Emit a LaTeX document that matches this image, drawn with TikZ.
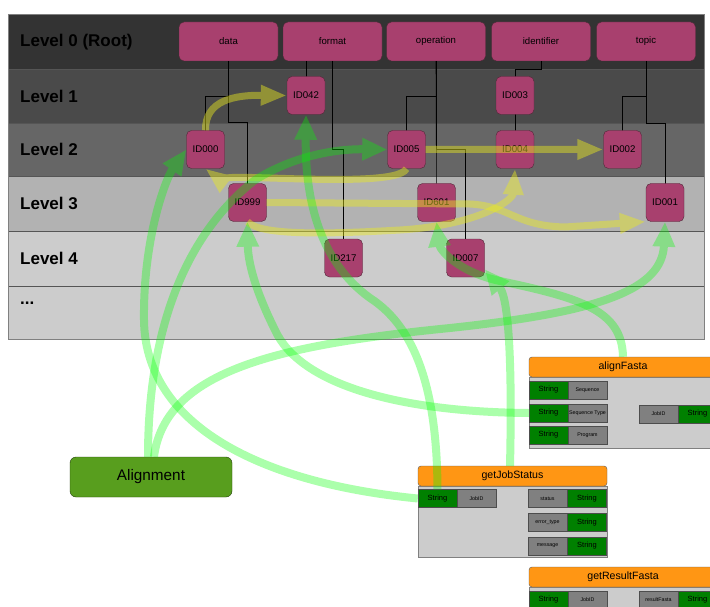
\documentclass[tikz,border=0pt]{standalone}
\usepackage{fontspec}
\setmainfont{Liberation Sans}
\usetikzlibrary{arrows.meta}
\definecolor{rootc}{RGB}{168,64,110}
\definecolor{rootb}{RGB}{80,40,55}
\definecolor{lvA}{RGB}{51,51,51}
\definecolor{lvB}{RGB}{74,74,74}
\definecolor{lvC}{RGB}{102,102,102}
\definecolor{lvD}{RGB}{178,178,178}
\definecolor{lvE}{RGB}{204,204,204}
\definecolor{sepc}{RGB}{85,85,85}
\definecolor{orangeh}{RGB}{255,150,20}
\definecolor{strg}{RGB}{0,128,0}
\definecolor{grayb}{RGB}{128,128,128}
\definecolor{panelb}{RGB}{204,204,204}
\definecolor{algreen}{RGB}{88,158,30}
\definecolor{garrow}{RGB}{0,255,0}
\definecolor{yarrow}{RGB}{235,235,30}
\tikzset{
  rootbox/.style={draw=rootb, fill=rootc, rounded corners=5pt, minimum width=99pt, minimum height=39pt, inner sep=0pt, font=\fontsize{9.6}{11}\selectfont},
  idbox/.style={draw=rootb, fill=rootc, rounded corners=5pt, minimum width=38pt, minimum height=38pt, inner sep=0pt, font=\fontsize{9.7}{11}\selectfont},
  lvlabel/.style={anchor=west, inner sep=0pt, font=\bfseries\fontsize{17}{20}\selectfont},
  tree/.style={draw=black, line width=0.6pt},
  garr/.style={draw=garrow, line width=8pt, -{Triangle[length=25pt,width=21pt]}},
  yarr/.style={draw=yarrow, line width=7pt, -{Triangle[length=26pt,width=19pt]}},
  ggroup/.style={transparency group, opacity=0.33},
  ygroup/.style={transparency group, opacity=0.45},
  phead/.style={draw=grayb!70!black, fill=orangeh, rounded corners=3pt, minimum width=188pt, minimum height=20pt, inner sep=0pt, font=\fontsize{10.6}{12}\selectfont},
  pbody/.style={draw=grayb, fill=panelb, anchor=north west, minimum width=188pt, inner sep=0pt},
  strbox/.style={draw=grayb!60!black, fill=strg, minimum width=39pt, minimum height=18pt, inner sep=0pt, font=\fontsize{7.5}{9}\selectfont},
  portbox/.style={draw=grayb!60!black, fill=grayb, minimum width=39pt, minimum height=18pt, inner sep=0pt, font=\fontsize{5.3}{6}\selectfont},
  alignbox/.style={draw=black!60!algreen, fill=algreen, rounded corners=6pt, minimum width=162pt, minimum height=40pt, inner sep=0pt, font=\fontsize{15.3}{18}\selectfont}
}
\begin{document}
\begin{tikzpicture}[x=1pt,y=-1pt]
\useasboundingbox (0,0) rectangle (710,607);
\fill[white] (0,0) rectangle (710,607);
% rows
\fill[lvA] (8,14) rectangle (704,69);
\fill[lvB] (8,69) rectangle (704,123);
\fill[lvC] (8,123) rectangle (704,176);
\fill[lvD] (8,176) rectangle (704,231);
\fill[lvE] (8,231) rectangle (704,339);
\draw[sepc, line width=0.7pt] (8,69) -- (704,69) (8,123) -- (704,123) (8,176) -- (704,176) (8,231) -- (704,231) (8,286) -- (704,286);
\draw[grayb, line width=0.8pt] (8,14) rectangle (704,339);
% level labels
\node[lvlabel] (l0) at (20,42) {Level 0 (Root)};
\node[lvlabel] (l1) at (20,96) {Level 1};
\node[lvlabel] (l2) at (20,149) {Level 2};
\node[lvlabel] (l3) at (20,203) {Level 3};
\node[lvlabel] (l4) at (20,258) {Level 4};
\node[lvlabel] (l5) at (20,303) {...};
% root boxes
\node[rootbox] (data) at (228.5,41.5) {data};
\node[rootbox] (format) at (332.5,41.5) {format};
\node[rootbox] (oper) at (436,41.5) {operation};
\node[rootbox] (ident) at (541,41.5) {identifier};
\node[rootbox] (topic) at (646,41.5) {topic};
\path (306,95.5) coordinate (c042) (515,95.5) coordinate (c003)
      (205.5,149.5) coordinate (c000) (406.5,149.5) coordinate (c005) (515,149.5) coordinate (c004) (622.5,149.5) coordinate (c002)
      (247.5,202.5) coordinate (c999) (436.5,202.5) coordinate (c601) (665,202.5) coordinate (c001)
      (343.5,258) coordinate (c217) (465.5,258) coordinate (c007);
% tree lines (under the id nodes)
\draw[tree] (data.south) -- ++(0,35) -| (c000);
\draw[tree] (data.south) -- ++(0,61) -| (c999);
\draw[tree] (format.south) -- ++(0,88) -| (c217);
\draw[tree] (c042) -- (c042 |- format.south);
\draw[tree] (oper.south) -- ++(0,35) -| (c005);
\draw[tree] (oper.south) -- (c601);
\draw[tree] (oper.south) -- ++(0,88) -| (c007);
\draw[tree] (ident.south) -- ++(0,8) -| (c003);
\draw[tree] (c003) -- (c004);
\draw[tree] (topic.south) -- ++(0,35) -| (c002);
\draw[tree] (topic.south) -- ++(0,62) -| (c001);
% id nodes
\node[idbox] (id042) at (c042) {ID042};
\node[idbox] (id003) at (c003) {ID003};
\node[idbox] (id000) at (c000) {ID000};
\node[idbox] (id005) at (c005) {ID005};
\node[idbox] (id004) at (c004) {ID004};
\node[idbox] (id002) at (c002) {ID002};
\node[idbox] (id999) at (c999) {ID999};
\node[idbox] (id601) at (c601) {ID601};
\node[idbox] (id001) at (c001) {ID001};
\node[idbox] (id217) at (c217) {ID217};
\node[idbox] (id007) at (c007) {ID007};
% alignFasta panel
\node[pbody, minimum height=71pt] (afBody) at (529,377) {};
\node[phead] (afHead) at (623,367) {alignFasta};
\node[strbox] (afS1) at (548.5,390) {String};
\node[portbox] (afP1) at (587.5,390) {Sequence};
\node[strbox] (afS2) at (548.5,413) {String};
\node[portbox] (afP2) at (587.5,413) {Sequence Type};
\node[strbox] (afS3) at (548.5,435) {String};
\node[portbox] (afP3) at (587.5,435) {Program};
\node[portbox] (afO) at (658.5,414) {JobID};
\node[strbox] (afOS) at (697.5,414) {String};
% getJobStatus panel
\node[pbody, minimum width=189pt, minimum height=71pt] (gjBody) at (418,486) {};
\node[phead, minimum width=189pt] (gjHead) at (512.5,476) {getJobStatus};
\node[strbox] (gjS) at (437.5,498.5) {String};
\node[portbox] (gjP) at (476.5,498.5) {JobID};
\node[portbox] (gjO1) at (547.5,498.5) {status};
\node[strbox] (gjO1S) at (587,498.5) {String};
\node[portbox] (gjO2) at (547.5,522.5) {error\_type};
\node[strbox] (gjO2S) at (587,522.5) {String};
\node[portbox] (gjO3) at (547.5,546) {message};
\node[strbox] (gjO3S) at (587,546) {String};
% getResultFasta panel
\node[pbody, minimum height=40pt] (grBody) at (529,587) {};
\node[phead] (grHead) at (623,577) {getResultFasta};
\node[strbox] (grS) at (548.5,600) {String};
\node[portbox] (grP) at (587.5,600) {JobID};
\node[portbox] (grO) at (658.5,600) {resultFasta};
\node[strbox] (grOS) at (697.5,600) {String};
% Alignment
\node[alignbox] (al) at (151,477) {Alignment};
% yellow arrows
\begin{scope}[ygroup]
\draw[yarr] (id000.north) .. controls (205,100) and (235,95) .. (id042.west);
\end{scope}
\begin{scope}[ygroup]
\draw[yarr] (id005.east) -- (id002.west);
\end{scope}
\begin{scope}[ygroup]
\draw[yarr] (id005.south) .. controls (400,182) and (330,180) .. (270,178) .. controls (235,177) and (215,176) .. (id000.south);
\end{scope}
\begin{scope}[ygroup]
\draw[yarr] (id999.east) -- (470,204) .. controls (510,206) and (515,226) .. (565,227) -- (id001.south west);
\end{scope}
\begin{scope}[ygroup]
\draw[yarr] (id999.south) .. controls (260,236) and (330,234) .. (400,230) .. controls (480,225) and (513,200) .. (id004.south);
\end{scope}
% green arrows
\coordinate (gjTop) at (510,466);
\begin{scope}[ggroup]
\draw[garr] (gjS.west) .. controls (250,482) and (145,420) .. (144,320) .. controls (143,240) and (165,180) .. (id000.west);
\end{scope}
\begin{scope}[ggroup]
\draw[garr] ([xshift=-3pt]al.north) .. controls (148,330) and (185,235) .. (255,180) .. controls (300,152) and (345,149) .. (id005.west);
\end{scope}
\begin{scope}[ggroup]
\draw[garr] ([xshift=3pt]al.north) .. controls (165,370) and (280,345) .. (450,328) .. controls (600,312) and (662,290) .. (id001.south);
\end{scope}
\begin{scope}[ggroup]
\draw[garr] (afS2.west) .. controls (400,412) and (300,385) .. (275,330) .. controls (255,290) and (248,262) .. (id999.south);
\end{scope}
\begin{scope}[ggroup]
\draw[garr] (gjS.north) .. controls (437,400) and (420,330) .. (370,298) .. controls (320,262) and (305,200) .. (id042.south);
\end{scope}
\begin{scope}[ggroup]
\draw[garr] (gjTop) .. controls (512,380) and (510,300) .. ([yshift=8pt]id007.south east);
\end{scope}
\begin{scope}[ggroup]
\draw[garr] (afHead.north) .. controls (622,310) and (580,298) .. (500,281) .. controls (458,272) and (440,250) .. (id601.south);
\end{scope}
\end{tikzpicture}
\end{document}
